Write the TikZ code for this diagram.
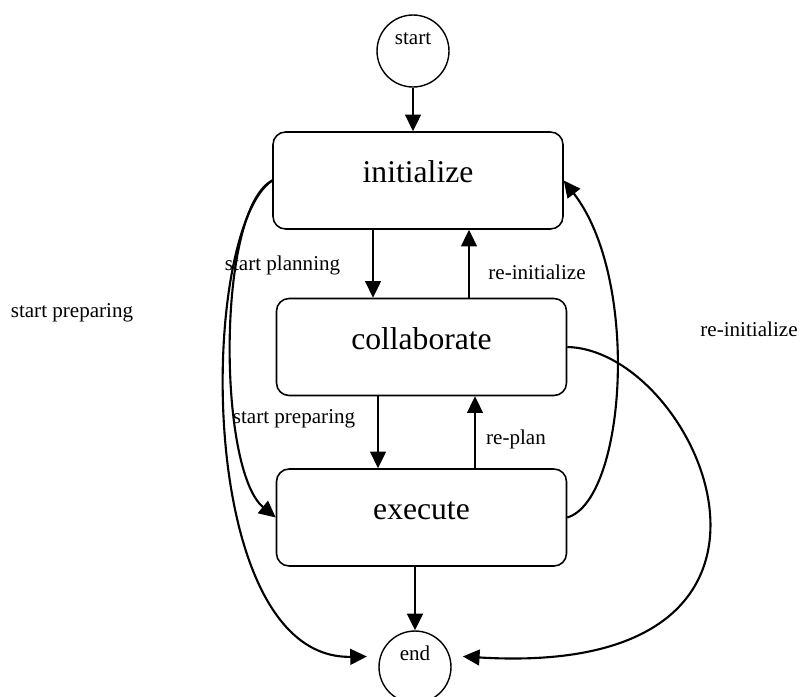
\documentclass[tikz,border=0pt]{standalone}
\usepackage{fontspec}
\setmainfont{Liberation Serif}
\usetikzlibrary{arrows.meta}

\begin{document}
\begin{tikzpicture}[x=0.02cm, y=-0.02cm,
  stage/.style={draw, line width=0.9pt, rounded corners=0.25cm,
    minimum width=5.8cm, minimum height=1.94cm,
    font=\fontsize{18}{22}\selectfont, text height=12pt, text depth=9.2pt},
  endpoint/.style={draw, circle, line width=0.8pt, minimum size=1.44cm,
    inner sep=0pt, font=\fontsize{12}{14}\selectfont,
    text height=8pt, text depth=15pt},
  note/.style={font=\fontsize{12}{14}\selectfont},
  move/.style={line width=1.2pt, -{Triangle[length=9.5pt, width=9pt]}}]
  \useasboundingbox (0,0) rectangle (800,696);

  \node[endpoint] (startpt) at (413,51) {start};
  \node[stage] (init) at (418,180.5) {initialize};
  \node[stage] (collab) at (421.5,347) {collaborate};
  \node[stage] (exec) at (421.5,517.5) {execute};
  \node[endpoint] (endpt) at (415,667) {end};

  \node[note] (lblplan) at (282.5,265) {start planning};
  \node[note] (lblreinit) at (537,272) {re-initialize};
  \node[note] (lblprep) at (294,419) {start preparing};
  \node[note] (lblreplan) at (516,439) {re-plan};
  \node[note] (lblprepfar) at (72,313) {start preparing};
  \node[note] (lblreinitfar) at (749,329) {re-initialize};

  \draw[move] (startpt) -- (startpt |- init.north);
  \draw[move] ([xshift=-0.9cm]init.south) -- ([xshift=-0.9cm]init.south |- collab.north);
  \draw[move] ([xshift=0.95cm]collab.north) -- ([xshift=0.95cm]collab.north |- init.south);
  \draw[move] ([xshift=-0.87cm]collab.south) -- ([xshift=-0.87cm]collab.south |- exec.north);
  \draw[move] ([xshift=1.07cm]exec.north) -- ([xshift=1.07cm]exec.north |- collab.south);
  \draw[move] (exec.south -| endpt) -- (endpt);

  \draw[move] (init.west) .. controls +(-56,29.5) and +(-58,-47.5) .. (exec.west);
  \draw[move, shorten >=0.26cm] (init.west) .. controls +(-74,49.5) and +(-186,3.5) .. (endpt.163);
  \draw[move] (exec.east) .. controls +(58.5,-17.5) and +(77,99.5) .. (init.east);
  \draw[move, shorten >=0.26cm] (collab.east) .. controls +(132,3) and +(395,24) .. (endpt.18);

\end{tikzpicture}
\end{document}
